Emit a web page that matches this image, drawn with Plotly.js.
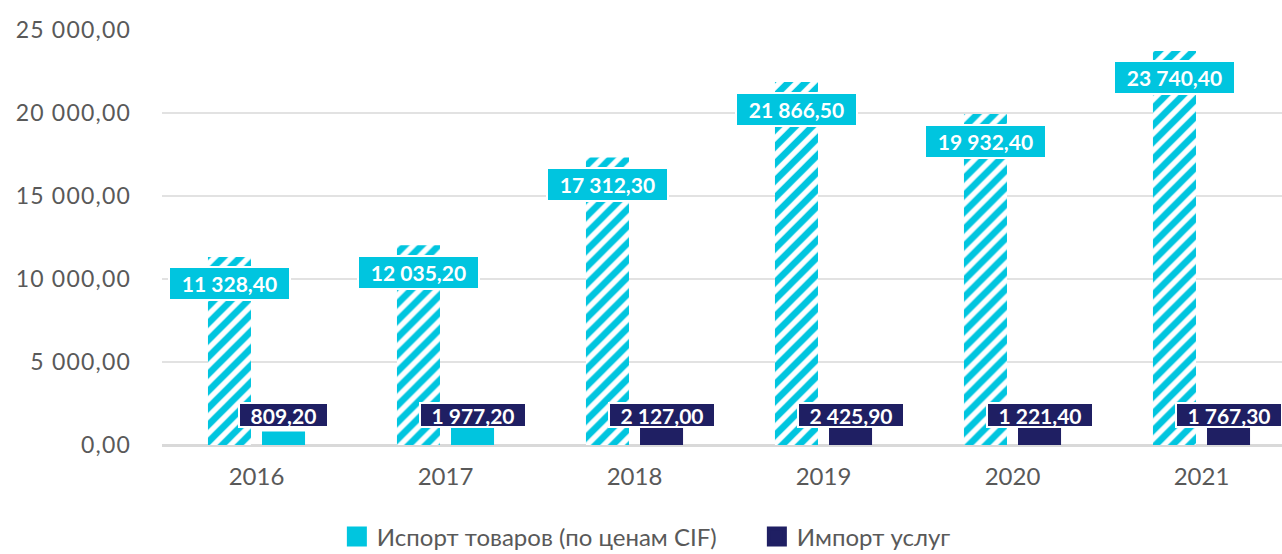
<!DOCTYPE html>
<html>
<head>
<meta charset="utf-8">
<script src="https://cdn.plot.ly/plotly-3.0.1.min.js"></script>
<style>
  html, body { margin: 0; padding: 0; background: #ffffff; overflow: hidden; }
  #chart { width: 1296px; height: 554px; }
  #chart .ytick text { letter-spacing: 1.2px; }
</style>
</head>
<body>
<div id="chart"></div>
<script>
// ---- data ----
const years = ['2016', '2017', '2018', '2019', '2020', '2021'];
const goodsImport = [11328.4, 12035.2, 17312.3, 21866.5, 19932.4, 23740.4];
const servicesImport = [809.2, 1977.2, 2127.0, 2425.9, 1221.4, 1767.3];
const seriesNames = ['Испорт товаров (по ценам CIF)', 'Импорт услуг'];

// ---- style ----
const CYAN = '#00C5DF';
const NAVY = '#1F1F63';
const servicesColors = [CYAN, CYAN, NAVY, NAVY, NAVY, NAVY];
const FONT = 'Lato, "Noto Sans", sans-serif';
const GRAY = '#595959';
const LABEL_FONT_SIZE = 21;

function fmt(v) {
  const parts = v.toFixed(2).split('.');
  return parts[0].replace(/\B(?=(\d{3})+(?!\d))/g, ' ') + ',' + parts[1];
}

const ctx = document.createElement('canvas').getContext('2d');
ctx.font = 'bold ' + LABEL_FONT_SIZE + 'px Lato';
function textW(t) { return ctx.measureText(t).width; }

const traces = [
  {
    type: 'bar', x: years, y: goodsImport, name: seriesNames[0], showlegend: false,
    marker: { color: CYAN, line: { width: 0 },
      pattern: { shape: '/', fgcolor: CYAN, bgcolor: '#ffffff', size: 12, solidity: 0.55 } },
    hoverinfo: 'skip'
  },
  {
    type: 'bar', x: years, y: servicesImport, name: seriesNames[1], showlegend: false,
    marker: { color: servicesColors, line: { width: 0 } },
    hoverinfo: 'skip'
  },
  {
    type: 'scatter', mode: 'markers', x: [years[0]], y: [null], name: seriesNames[0],
    marker: { symbol: 'square', size: 16, color: CYAN, line: { color: CYAN, width: 4 } },
    hoverinfo: 'skip'
  },
  {
    type: 'scatter', mode: 'markers', x: [years[0]], y: [null], name: seriesNames[1],
    marker: { symbol: 'square', size: 16, color: NAVY, line: { color: NAVY, width: 4 } },
    hoverinfo: 'skip'
  }
];

const annotations = [];
years.forEach((yr, i) => {
  const t1 = fmt(goodsImport[i]);
  annotations.push({
    x: i, y: goodsImport[i], xref: 'x', yref: 'y', text: '<b>' + t1 + '</b>',
    showarrow: false, xshift: -27, yshift: -27, yanchor: 'middle', xanchor: 'center',
    bgcolor: CYAN, bordercolor: '#ffffff', borderwidth: 2, borderpad: 0,
    width: Math.round(textW(t1) + 24), height: 31,
    font: { family: FONT, size: LABEL_FONT_SIZE, color: '#ffffff' }
  });
  const t2 = fmt(servicesImport[i]);
  annotations.push({
    x: i, y: 0, xref: 'x', yref: 'y', text: '<b>' + t2 + '</b>',
    showarrow: false, xshift: 27, yshift: 30, yanchor: 'middle', xanchor: 'center',
    bgcolor: NAVY, bordercolor: '#ffffff', borderwidth: 2, borderpad: 0,
    width: Math.round(textW(t2) + 21), height: 22,
    font: { family: FONT, size: LABEL_FONT_SIZE, color: '#ffffff' }
  });
});

const layout = {
  width: 1296, height: 554,
  margin: { l: 162, r: 0, t: 30, b: 109 },
  paper_bgcolor: '#ffffff', plot_bgcolor: '#ffffff',
  separators: ', ',
  font: { family: FONT, color: GRAY, size: 23 },
  barmode: 'group', bargap: 0.428, bargroupgap: 0.204,
  xaxis: {
    type: 'category', categoryorder: 'array', categoryarray: years,
    range: [-0.5, years.length - 0.5],
    showgrid: false, zeroline: false, showline: false,
    ticks: '', ticklabelstandoff: 15,
    tickfont: { family: FONT, size: 24, color: GRAY }
  },
  yaxis: {
    range: [0, 25000], dtick: 5000, tick0: 0, tickformat: ',.2f',
    showgrid: true, gridcolor: '#e2e2e2', gridwidth: 1.5,
    zeroline: true, zerolinecolor: '#d9d9d9', zerolinewidth: 3,
    showline: false, ticks: '', ticklabelstandoff: 30,
    tickfont: { family: FONT, size: 23, color: GRAY }
  },
  showlegend: true,
  legend: {
    orientation: 'h', xref: 'container', yref: 'container',
    x: 0.584, xanchor: 'center', y: 0.031, yanchor: 'middle',
    font: { family: FONT, size: 24, color: GRAY },
    entrywidth: 375, entrywidthmode: 'pixels',
    itemgap: 0, bgcolor: 'rgba(0,0,0,0)'
  },
  annotations: annotations
};

Plotly.newPlot('chart', traces, layout, { displayModeBar: false, staticPlot: true });
</script>
</body>
</html>
